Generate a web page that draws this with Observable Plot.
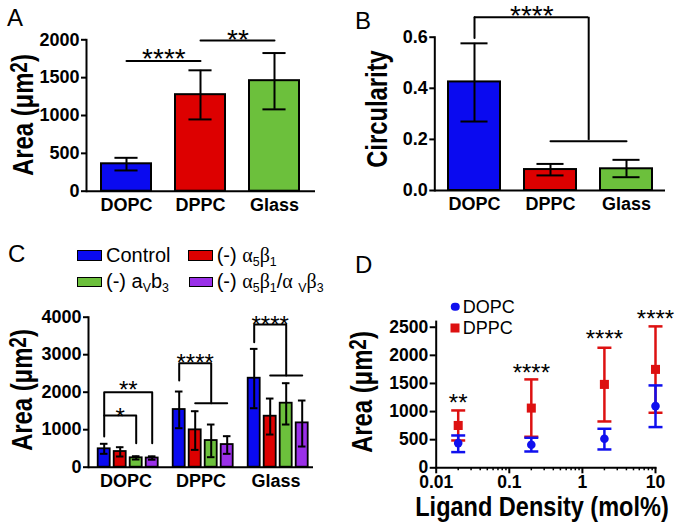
<!DOCTYPE html>
<html>
<head>
<meta charset="utf-8">
<script src="https://cdn.jsdelivr.net/npm/d3@7"></script>
<script src="https://cdn.jsdelivr.net/npm/@observablehq/plot@0.6"></script>
<style>
  html, body { margin: 0; padding: 0; background: #fff; }
  #fig { position: relative; width: 680px; height: 525px; overflow: hidden;
         font-family: "Liberation Sans", Arial, Helvetica, sans-serif; color: #000; }
  .panel { position: absolute; }
  .panel svg { display: block; overflow: visible; }
  .letter { position: absolute; font-size: 24px; line-height: 1; }
  .ytitle { position: absolute; font-size: 29px; font-weight: bold; line-height: 0.85; white-space: nowrap;
            transform: translate(-50%, -50%) rotate(-90deg) scaleX(0.82); }
  .xtitle { position: absolute; font-size: 28px; font-weight: bold; line-height: 0.8; white-space: nowrap;
            transform: translate(-50%, 0) scaleX(0.84); }
  .ytitle sup { font-size: 0.8em; vertical-align: 0.26em; line-height: 0; }
  .leg { position: absolute; font-size: 20px; line-height: 1; white-space: nowrap; }
  .leg sub { font-size: 0.62em; vertical-align: -0.3em; line-height: 0; }
  .greek { font-family: "Liberation Serif", "DejaVu Serif", serif; }
  .sw { position: absolute; box-sizing: border-box; border: 1.5px solid #000; }
  .dleg { position: absolute; font-size: 18px; line-height: 1; white-space: nowrap; }
  .mk { position: absolute; transform: translate(-50%, -50%); }
</style>
</head>
<body>
<div id="fig"></div>
<script>
// ===================== DATA =====================
const surfaces = ["DOPC", "DPPC", "Glass"];
const surfaceColors = ["#0a0af0", "#dd0000", "#6cc03c"];

// Panel A – spread area (µm²)
const areaMean = [362, 1275, 1460];
const areaLow  = [274, 948, 1081];
const areaHigh = [441, 1597, 1825];
const areaTicksA = [0, 500, 1000, 1500, 2000];
// significance brackets A
const sigAFrom  = ["DOPC", "DPPC"];
const sigATo    = ["DPPC", "Glass"];
const sigALevel = [1720, 1990];
const sigALabel = ["****", "**"];
const sigALabelY = [1839, 2090];

// Panel B – circularity
const circMean = [0.425, 0.082, 0.085];
const circLow  = [0.270, 0.059, 0.052];
const circHigh = [0.576, 0.104, 0.120];
const circTicks = [0, 0.2, 0.4, 0.6];

// Panel C – area by integrin blocking
const treatments = ["Control", "(-) α5β1", "(-) aVb3", "(-) α5β1/αVβ3"];
const treatmentColors = ["#0a0af0", "#dd0000", "#6cc03c", "#9a30e8"];
const cMean = [[491, 418, 251, 245], [1538, 996, 711, 604], [2373, 1360, 1707, 1182]];
const cLow  = [[357, 285, 205, 200], [1040, 462, 267, 356], [1573, 871, 1138, 551]];
const cHigh = [[624, 533, 293, 290], [2018, 1493, 1138, 827], [3155, 1831, 2240, 1778]];
const areaTicksC = [0, 1000, 2000, 3000, 4000];
// bracket polylines: surface, [treatment index, value] vertices
const cBracketSurface = ["DOPC", "DOPC", "DPPC", "DPPC", "Glass", "Glass"];
const cBracketPoints = [
  [[0, 820], [0, 2000], [3, 2000], [3, 640]],
  [[0, 1378], [2, 1378], [2, 640]],
  [[0, 2311], [0, 2773], [2, 2773], [2, 1707]],
  [[1, 1707], [3, 1707]],
  [[0, 3333], [0, 3804], [2, 3804], [2, 2444]],
  [[1, 2444], [3, 2444]]
];
const cStarSurface = ["DOPC", "DPPC", "Glass"];
const cStarLabel   = ["*", "****", "****"];
const cStarY       = [1502, 2933, 3955];
const cStar2Label = "**";     // DOPC control vs double block
const cStar2Y = 2222;

// Panel D – area vs ligand density
const ligandDensity = [0.02, 0.2, 2, 10];
const dopcMean = [439, 409, 516, 1097];
const dopcLow  = [279, 290, 326, 724];
const dopcHigh = [575, 534, 694, 1465];
const dppcMean = [753, 1062, 1483, 1750];
const dppcLow  = [486, 552, 824, 979];
const dppcHigh = [1020, 1572, 2135, 2515];
const dSigLabel = ["**", "****", "****", "****"];
const dSigY = [1257, 1791, 2384, 2740];
const dTicksY = [0, 500, 1000, 1500, 2000, 2500];
const dTicksX = [0.01, 0.1, 1, 10];
const dTickLabels = ["0.01", "0.1", "1", "10"];
const dMinorTicks = [0.01, 0.1, 1].flatMap(d => [2, 3, 4, 5, 6, 7, 8, 9].map(k => k * d));

// ===================== HELPERS =====================
const fig = document.getElementById("fig");
const FONT = '"Liberation Sans", Arial, Helvetica, sans-serif';
const baseStyle = {fontFamily: FONT, fontSize: "18px", fontWeight: "bold", color: "black", background: "transparent", overflow: "visible"};
const BLUE = "#1010ee", RED = "#dd1111";
const intFmt = d3.format("d");

function place(node, left, top) {
  const w = document.createElement("div");
  w.className = "panel";
  w.style.left = left + "px";
  w.style.top = top + "px";
  w.appendChild(node);
  fig.appendChild(w);
}
function html(cls, left, top, inner, extra) {
  const d = document.createElement("div");
  d.className = cls;
  d.style.left = left + "px";
  d.style.top = top + "px";
  d.innerHTML = inner;
  if (extra) Object.assign(d.style, extra);
  fig.appendChild(d);
  return d;
}
const capSymbol = {draw(ctx, size) { const w = Math.sqrt(size / Math.PI); ctx.moveTo(-w, 0); ctx.lineTo(w, 0); }};

// ===================== PANEL A =====================
{
  const L = {w: 340, h: 260, mL: 86, mR: 25, mT: 39.3, mB: 69.3, pi: 0.32, po: 0.19};
  const step = (L.w - L.mL - L.mR) / (surfaces.length - L.pi + 2 * L.po);
  const bw = step * (1 - L.pi);
  const cap = 24, inset = (bw - cap) / 2;
  const data = surfaces.map((s, i) => ({s, m: areaMean[i], lo: areaLow[i], hi: areaHigh[i]}));
  const sig = sigAFrom.map((f, i) => ({from: f, to: sigATo[i], y: sigALevel[i], label: sigALabel[i], ly: sigALabelY[i]}));
  const sigLines = sig.flatMap((d, k) => [{k, s: d.from, v: d.y}, {k, s: d.to, v: d.y}]);
  const p = Plot.plot({
    width: L.w, height: L.h, marginLeft: L.mL, marginRight: L.mR, marginTop: L.mT, marginBottom: L.mB,
    style: baseStyle,
    x: {domain: surfaces, paddingInner: L.pi, paddingOuter: L.po},
    y: {domain: [0, 2000]},
    color: {domain: surfaces, range: surfaceColors},
    marks: [
      Plot.barY(data, {x: "s", y: "m", fill: "s", stroke: "black", strokeWidth: 2}),
      Plot.ruleX(data, {x: "s", y1: "lo", y2: "hi", stroke: "black", strokeWidth: 2}),
      Plot.tickY(data, {x: "s", y: "lo", stroke: "black", strokeWidth: 2, insetLeft: inset, insetRight: inset}),
      Plot.tickY(data, {x: "s", y: "hi", stroke: "black", strokeWidth: 2, insetLeft: inset, insetRight: inset}),
      Plot.ruleY([0], {strokeWidth: 2}),
      Plot.frame({anchor: "left", strokeWidth: 2}),
      Plot.axisY({ticks: areaTicksA, tickFormat: intFmt, tickSize: 5, tickPadding: 2, strokeWidth: 2, fontSize: 18, fontWeight: "bold", label: null}),
      Plot.axisX({tickSize: 0, tickPadding: 7, fontSize: 18, fontWeight: "bold", label: null}),
      Plot.line(sigLines, {x: "s", y: "v", z: "k", stroke: "black", strokeWidth: 2}),
      Plot.text(sig, {x: "from", y: "ly", text: "label", dx: step / 2, dy: 7, fontSize: 28, fontWeight: "normal"})
    ]
  });
  place(p, 0, 0);
}

// ===================== PANEL B =====================
{
  const L = {w: 340, h: 260, mL: 94.3, mR: 15, mT: 36.7, mB: 70, pi: 0.32, po: 0.17};
  const step = (L.w - L.mL - L.mR) / (surfaces.length - L.pi + 2 * L.po);
  const bw = step * (1 - L.pi);
  const cap = 27, inset = (bw - cap) / 2;
  const data = surfaces.map((s, i) => ({s, m: circMean[i], lo: circLow[i], hi: circHigh[i]}));
  const p = Plot.plot({
    width: L.w, height: L.h, marginLeft: L.mL, marginRight: L.mR, marginTop: L.mT, marginBottom: L.mB,
    style: baseStyle,
    x: {domain: surfaces, paddingInner: L.pi, paddingOuter: L.po},
    y: {domain: [0, 0.6]},
    color: {domain: surfaces, range: surfaceColors},
    marks: [
      Plot.barY(data, {x: "s", y: "m", fill: "s", stroke: "black", strokeWidth: 2}),
      Plot.ruleX(data, {x: "s", y1: "lo", y2: "hi", stroke: "black", strokeWidth: 2}),
      Plot.tickY(data, {x: "s", y: "lo", stroke: "black", strokeWidth: 2, insetLeft: inset, insetRight: inset}),
      Plot.tickY(data, {x: "s", y: "hi", stroke: "black", strokeWidth: 2, insetLeft: inset, insetRight: inset}),
      Plot.ruleY([0], {strokeWidth: 2}),
      Plot.frame({anchor: "left", strokeWidth: 2}),
      Plot.axisY({ticks: circTicks, tickFormat: d3.format(".1f"), tickSize: 5, tickPadding: 2, strokeWidth: 2, fontSize: 18, fontWeight: "bold", label: null}),
      Plot.axisX({tickSize: 0, tickPadding: 7, fontSize: 18, fontWeight: "bold", label: null}),
      // bracket: DOPC vs (DPPC, Glass)
      Plot.line([{s: "DOPC", v: 0.597}, {s: "DOPC", v: 0.678}], {x: "s", y: "v", strokeWidth: 2}),
      Plot.ruleY([{a: "DOPC", b: "DPPC", v: 0.678}], {x1: "a", x2: "b", y: "v", strokeWidth: 2, insetLeft: bw / 2, insetRight: -(step - bw) / 2}),
      Plot.ruleX([{s: "DPPC", a: 0.196, b: 0.678}], {x: "s", y1: "a", y2: "b", dx: step / 2, strokeWidth: 2}),
      Plot.line([{s: "DPPC", v: 0.193}, {s: "Glass", v: 0.193}], {x: "s", y: "v", strokeWidth: 2}),
      Plot.text([{s: "DOPC", v: 0.712, t: "****"}], {x: "s", y: "v", text: "t", dx: 0.75 * step, dy: 7, fontSize: 28, fontWeight: "normal"})
    ]
  });
  place(p, 340, 0);
}

// ===================== PANEL C =====================
{
  const L = {w: 340, h: 265, mL: 87.3, mR: 25.3, mT: 56.7, mB: 58.3, pi: 0.233, po: 0.457, align: 0.635};
  const facetW = (L.w - L.mL - L.mR) / surfaces.length;
  const step = facetW / (treatments.length - L.pi + 2 * L.po);
  const bw = step * (1 - L.pi);
  const cap = 8, inset = (bw - cap) / 2;
  const data = surfaces.flatMap((g, i) => treatments.map((t, j) => ({g, t, m: cMean[i][j], lo: cLow[i][j], hi: cHigh[i][j]})));
  const brackets = cBracketPoints.flatMap((pts, k) => pts.map(([j, v]) => ({k, g: cBracketSurface[k], t: treatments[j], v})));
  const stars = cStarSurface.map((g, i) => ({g, t: treatments[1], v: cStarY[i], label: cStarLabel[i]}));
  const p = Plot.plot({
    width: L.w, height: L.h, marginLeft: L.mL, marginRight: L.mR, marginTop: L.mT, marginBottom: L.mB,
    style: baseStyle,
    fx: {domain: surfaces, paddingInner: 0, paddingOuter: 0, label: null},
    x: {domain: treatments, paddingInner: L.pi, paddingOuter: L.po, align: L.align, axis: null},
    y: {domain: [0, 4000]},
    color: {domain: treatments, range: treatmentColors},
    marks: [
      Plot.barY(data, {fx: "g", x: "t", y: "m", fill: "t", stroke: "black", strokeWidth: 1.8}),
      Plot.ruleX(data, {fx: "g", x: "t", y1: "lo", y2: "hi", stroke: "black", strokeWidth: 2}),
      Plot.tickY(data, {fx: "g", x: "t", y: "lo", stroke: "black", strokeWidth: 2, insetLeft: inset, insetRight: inset}),
      Plot.tickY(data, {fx: "g", x: "t", y: "hi", stroke: "black", strokeWidth: 2, insetLeft: inset, insetRight: inset}),
      Plot.ruleY([0], {strokeWidth: 2}),
      Plot.frame({anchor: "left", facetAnchor: "left", strokeWidth: 2}),
      Plot.axisY({ticks: areaTicksC, tickFormat: intFmt, tickSize: 5, tickPadding: 2, strokeWidth: 2, fontSize: 18, fontWeight: "bold", label: null}),
      Plot.axisFx({anchor: "bottom", tickSize: 0, tickPadding: 7, fontSize: 18, fontWeight: "bold", label: null}),
      Plot.line(brackets, {fx: "g", x: "t", y: "v", z: "k", stroke: "black", strokeWidth: 2}),
      Plot.text(stars, {fx: "g", x: "t", y: "v", text: "label", dy: 6, fontSize: 24, fontWeight: "normal"}),
      Plot.text([{g: "DOPC", t: treatments[1], v: cStar2Y, label: cStar2Label}], {fx: "g", x: "t", y: "v", text: "label", dx: step / 2, dy: 6, fontSize: 24, fontWeight: "normal"})
    ]
  });
  place(p, 0, 260);
}

// ===================== PANEL D =====================
{
  const L = {w: 340, h: 265, mL: 95.7, mR: 25, mT: 61.1, mB: 57.7};
  const rows = (mean, lo, hi) => ligandDensity.map((x, i) => ({x, m: mean[i], lo: lo[i], hi: hi[i]}));
  const dppc = rows(dppcMean, dppcLow, dppcHigh);
  const dopc = rows(dopcMean, dopcLow, dopcHigh);
  const sig = ligandDensity.map((x, i) => ({x, v: dSigY[i], label: dSigLabel[i]}));
  const series = (d, color, symbol, r) => [
    Plot.ruleX(d, {x: "x", y1: "lo", y2: "hi", stroke: color, strokeWidth: 2.5}),
    Plot.dot(d, {x: "x", y: "lo", symbol: capSymbol, r: 7, stroke: color, strokeWidth: 2.5, fill: "none"}),
    Plot.dot(d, {x: "x", y: "hi", symbol: capSymbol, r: 7, stroke: color, strokeWidth: 2.5, fill: "none"}),
    Plot.dot(d, {x: "x", y: "m", symbol, r, fill: color, stroke: "none"})
  ];
  const p = Plot.plot({
    width: L.w, height: L.h, marginLeft: L.mL, marginRight: L.mR, marginTop: L.mT, marginBottom: L.mB,
    style: baseStyle,
    x: {type: "log", domain: [0.01, 10]},
    y: {domain: [0, 2600]},
    marks: [
      Plot.frame({anchor: "left", strokeWidth: 2}),
      Plot.frame({anchor: "bottom", strokeWidth: 2}),
      Plot.axisY({ticks: dTicksY, tickFormat: intFmt, tickSize: 6, tickPadding: 2, strokeWidth: 2, fontSize: 17.5, fontWeight: "bold", label: null}),
      Plot.axisX({ticks: dTicksX, tickFormat: d => dTickLabels[dTicksX.indexOf(d)], tickSize: 6, tickPadding: 1.5, strokeWidth: 2, fontSize: 17.5, fontWeight: "bold", label: null}),
      Plot.axisX({ticks: dMinorTicks, tickFormat: () => "", tickSize: 3, strokeWidth: 1.5, label: null}),
      ...series(dppc, RED, "square", 5.1),
      ...series(dopc, BLUE, "circle", 4.3),
      Plot.text(sig, {x: "x", y: "v", text: "label", dy: 6, fontSize: 24, fontWeight: "normal"})
    ]
  });
  place(p, 340, 260);
}

// ===================== HTML TEXT =====================
html("letter", 7, 6, "A");
html("letter", 355, 8.5, "B");
html("letter", 8, 242, "C");
html("letter", 355, 253, "D");

html("ytitle", 23, 115, "Area (μm<sup>2</sup>)");
html("ytitle", 377, 109, "Circularity");
html("ytitle", 22, 390, "Area (μm<sup>2</sup>)");
html("ytitle", 362, 392, "Area (μm<sup>2</sup>)");
html("xtitle", 542, 495.5, "Ligand Density (mol%)");

// legend C
const legC = [
  {c: treatmentColors[0], bx: 77.3, by: 250, tx: 106, ty: 244.8, label: "Control"},
  {c: treatmentColors[1], bx: 188.3, by: 250, tx: 216.7, ty: 244.8, label: '(-) <span class="greek">α</span><sub>5</sub><span class="greek">β</span><sub>1</sub>'},
  {c: treatmentColors[2], bx: 77.3, by: 276.7, tx: 106, ty: 270.8, label: "(-) a<sub>V</sub>b<sub>3</sub>"},
  {c: treatmentColors[3], bx: 189, by: 276.7, tx: 216.7, ty: 270.8, label: '(-) <span class="greek">α</span><sub>5</sub><span class="greek">β</span><sub>1</sub>/<span class="greek">α</span> <sub>V</sub><span class="greek">β</span><sub>3</sub>'}
];
legC.forEach(d => {
  html("sw", d.bx, d.by, "", {width: "24.4px", height: "10.7px", background: d.c});
  html("leg", d.tx, d.ty, d.label);
});

// legend D
html("mk", 455, 306.7, "", {width: "8.5px", height: "8.5px", borderRadius: "50%", background: BLUE});
html("dleg", 462.7, 298, "DOPC");
html("mk", 455, 328.3, "", {width: "9px", height: "9px", background: RED});
html("dleg", 462.7, 318.8, "DPPC");
</script>
